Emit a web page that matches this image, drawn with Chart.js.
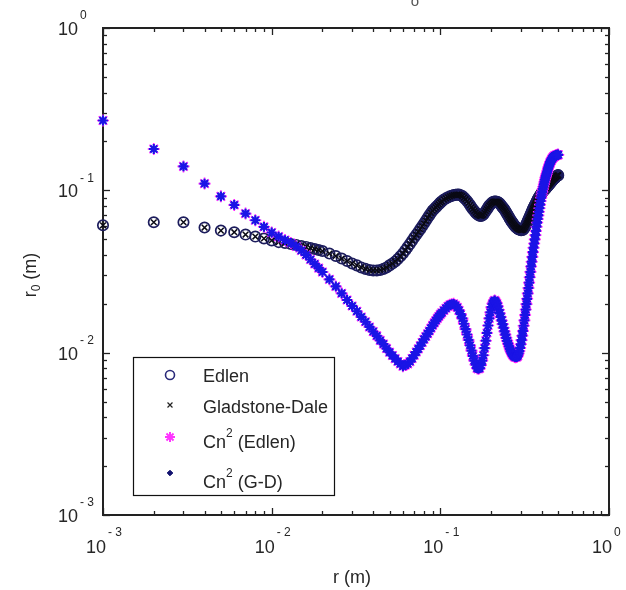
<!DOCTYPE html>
<html>
<head>
<meta charset="utf-8">
<script src="https://cdn.jsdelivr.net/npm/chart.js@4.4.0/dist/chart.umd.min.js"></script>
<style>
html, body { margin: 0; padding: 0; background: #fff; }
</style>
</head>
<body>
<canvas id="myChart" width="626" height="590"></canvas>
<script>
// r (m)
let radius = [
  0.001, 0.002, 0.003, 0.004, 0.005, 0.006, 0.007, 0.008, 0.009, 0.010,
  0.011, 0.012, 0.013, 0.014, 0.015, 0.016, 0.017, 0.018, 0.019, 0.020,
  0.022, 0.024, 0.026, 0.028, 0.030, 0.032, 0.034, 0.036, 0.038, 0.040,
  0.042, 0.044, 0.046, 0.048, 0.050, 0.052, 0.054, 0.056, 0.058, 0.060,
  0.062, 0.064, 0.066, 0.068, 0.070, 0.072, 0.074, 0.076, 0.078, 0.080,
  0.082, 0.084, 0.086, 0.088, 0.090, 0.092, 0.094, 0.096, 0.098, 0.100,
  0.102, 0.105, 0.108, 0.111, 0.114, 0.117, 0.120, 0.123, 0.126, 0.129,
  0.132, 0.135, 0.138, 0.141, 0.144, 0.147, 0.150, 0.153, 0.156, 0.159,
  0.162, 0.165, 0.168, 0.171, 0.174, 0.177, 0.180, 0.183, 0.186, 0.189,
  0.192, 0.195, 0.198, 0.201, 0.204, 0.207, 0.210, 0.213, 0.216, 0.219,
  0.222, 0.225, 0.228, 0.231, 0.234, 0.237, 0.240, 0.243, 0.246, 0.249,
  0.252, 0.255, 0.258, 0.261, 0.264, 0.267, 0.270, 0.273, 0.276, 0.279,
  0.282, 0.285, 0.288, 0.291, 0.294, 0.297, 0.300, 0.303, 0.306, 0.309,
  0.312, 0.315, 0.318, 0.321, 0.324, 0.327, 0.330, 0.333, 0.336, 0.339,
  0.342, 0.345, 0.348, 0.351, 0.354, 0.357, 0.360, 0.363, 0.366, 0.369,
  0.372, 0.375, 0.378, 0.381, 0.384, 0.387, 0.390, 0.393, 0.396, 0.399,
  0.402, 0.405, 0.408, 0.411, 0.414, 0.417, 0.420, 0.423, 0.426, 0.429,
  0.432, 0.435, 0.438, 0.441, 0.444, 0.447, 0.450, 0.453, 0.456, 0.459,
  0.462, 0.465, 0.468, 0.471, 0.474, 0.477, 0.480, 0.483, 0.486, 0.489,
  0.492, 0.495, 0.498, 0.500
];

// r0 (m) with the Edlen refractive index
let r0Edlen = [
  0.0609, 0.0636, 0.0636, 0.0590, 0.0565, 0.0552, 0.0534, 0.0519, 0.0505, 0.0491,
  0.0480, 0.0474, 0.0467, 0.0461, 0.0454, 0.0448, 0.0441, 0.0435, 0.0429, 0.0423,
  0.0408, 0.0394, 0.0380, 0.0367, 0.0354, 0.0345, 0.0335, 0.0328, 0.0323, 0.0321,
  0.0321, 0.0323, 0.0328, 0.0335, 0.0345, 0.0354, 0.03646, 0.03772, 0.03924, 0.0408,
  0.04272, 0.04470, 0.04677, 0.04894, 0.05121, 0.05328, 0.05543, 0.05767, 0.06000, 0.0624,
  0.06494, 0.06756, 0.07010, 0.07254, 0.0750, 0.07675, 0.07851, 0.08030, 0.08215, 0.0840,
  0.08548, 0.0877, 0.08917, 0.09057, 0.09173, 0.09264, 0.0934, 0.09382, 0.0941, 0.0941,
  0.09331, 0.0921, 0.0902, 0.08817, 0.08595, 0.08354, 0.0811, 0.07873, 0.07652, 0.07460,
  0.07292, 0.0714, 0.07050, 0.06981, 0.06950, 0.07000, 0.0709, 0.07272, 0.07460, 0.07652,
  0.07851, 0.0805, 0.08190, 0.08320, 0.08427, 0.08487, 0.0852, 0.0852, 0.0851, 0.08475,
  0.08392, 0.0828, 0.08145, 0.08008, 0.07873, 0.07741, 0.0761, 0.0745, 0.07292, 0.0714,
  0.0699, 0.0684, 0.0670, 0.06568, 0.06458, 0.06350, 0.0624, 0.06138, 0.06043, 0.05968,
  0.05908, 0.0586, 0.05808, 0.05767, 0.05743, 0.05718, 0.0569, 0.0569, 0.05701, 0.05726,
  0.05783, 0.0586, 0.05957, 0.0607, 0.06198, 0.06332, 0.0647, 0.0661, 0.06747, 0.0689,
  0.07041, 0.0719, 0.0734, 0.0750, 0.07665, 0.07806, 0.0794, 0.08076, 0.08215, 0.08354,
  0.08498, 0.0864, 0.08793, 0.08930, 0.09046, 0.09161, 0.0928, 0.09397, 0.09517, 0.09638,
  0.09734, 0.0982, 0.09902, 0.09986, 0.1007, 0.1016, 0.1024, 0.1033, 0.1042, 0.1051,
  0.1060, 0.1069, 0.1078, 0.1087, 0.1096, 0.1106, 0.1115, 0.1125, 0.1134, 0.1144,
  0.1154, 0.1163, 0.1173, 0.1181, 0.1187, 0.1192, 0.1197, 0.1207, 0.1216, 0.1221,
  0.1226, 0.1231, 0.1237, 0.1240
];
// r0 (m) with Gladstone-Dale: on this plot it lies on the Edlen curve
let r0GladstoneDale = r0Edlen.slice();

// r0 (m) from the Cn2 profile (Edlen)
let r0Cn2Edlen = [
  0.2693, 0.1797, 0.1404, 0.1100, 0.0918, 0.0813, 0.0719, 0.0654, 0.0596, 0.0550,
  0.0519, 0.0494, 0.0474, 0.0451, 0.0426, 0.0400, 0.0375, 0.0352, 0.0332, 0.0314,
  0.0283, 0.0256, 0.0232, 0.0211, 0.0194, 0.0180, 0.0166, 0.0155, 0.0144, 0.0135,
  0.0127, 0.0119, 0.0113, 0.0106, 0.01006, 0.00961, 0.00919, 0.00883, 0.00853, 0.00825,
  0.00839, 0.00853, 0.00881, 0.00921, 0.00964, 0.01009, 0.01055, 0.01104, 0.01155, 0.01209,
  0.01258, 0.01309, 0.01361, 0.01416, 0.01474, 0.01525, 0.01577, 0.01627, 0.01674, 0.01722,
  0.01761, 0.01822, 0.01877, 0.01929, 0.01970, 0.01990, 0.01998, 0.01956, 0.01901, 0.01822,
  0.01727, 0.01627, 0.01507, 0.01396, 0.01294, 0.01198, 0.01110, 0.01029, 0.00956, 0.00893,
  0.00844, 0.00802, 0.00795, 0.00802, 0.00837, 0.00893, 0.00964, 0.01067, 0.01185, 0.01323,
  0.01470, 0.01627, 0.01771, 0.01907, 0.02006, 0.02064, 0.02099, 0.02064, 0.02012, 0.01929,
  0.01838, 0.01747, 0.01660, 0.01577, 0.01499, 0.01424, 0.01353, 0.01292, 0.01235, 0.01183,
  0.01137, 0.01095, 0.01058, 0.01026, 0.01000, 0.00980, 0.00964, 0.00952, 0.00942, 0.00938,
  0.00939, 0.00944, 0.00957, 0.00989, 0.01023, 0.01070, 0.01126, 0.01195, 0.01272, 0.01361,
  0.01465, 0.01581, 0.01707, 0.01843, 0.01990, 0.02147, 0.02318, 0.02502, 0.02701, 0.02916,
  0.03147, 0.03396, 0.03635, 0.03890, 0.04165, 0.04432, 0.04703, 0.04991, 0.05297, 0.05621,
  0.05968, 0.06332, 0.06663, 0.07010, 0.07378, 0.07762, 0.08168, 0.08595, 0.09018, 0.09410,
  0.09790, 0.1017, 0.1052, 0.1088, 0.1126, 0.1162, 0.1197, 0.1228, 0.1259, 0.1292,
  0.1325, 0.1360, 0.1389, 0.1419, 0.1449, 0.1485, 0.1501, 0.1520, 0.1540, 0.1560,
  0.1575, 0.1589, 0.1602, 0.1613, 0.1620, 0.1629, 0.1634, 0.1641, 0.1646, 0.1646,
  0.1650, 0.1657, 0.1657, 0.1657
];
// r0 (m) from the Cn2 profile (G-D): drawn over the Edlen one
let r0Cn2GD = r0Cn2Edlen.slice();

// tick labels
let decades = [0.001, 0.01, 0.1, 1];
let exponents = ['-3', '-2', '-1', '0'];
let minorSteps = [2, 3, 4, 5, 6, 7, 8, 9];

let legendNames = [
  ['Edlen', '', ''],
  ['Gladstone-Dale', '', ''],
  ['Cn', '2', ' (Edlen)'],
  ['Cn', '2', ' (G-D)']
];

function points(values) {
  let out = [];
  for (let i = 0; i < radius.length; i++) {
    out.push({x: radius[i], y: values[i]});
  }
  return out;
}

const FONT = '"Liberation Sans", Arial, sans-serif';
const TXT = '#262626';

const framePlugin = {
  id: 'frame',
  beforeDatasetsDraw(chart) {
    const ctx = chart.ctx;
    const a = chart.chartArea;
    const xs = chart.scales.x, ys = chart.scales.y;
    ctx.save();
    ctx.strokeStyle = '#222';
    ctx.lineWidth = 1.3;
    function seg(x1, y1, x2, y2) {
      ctx.beginPath(); ctx.moveTo(x1, y1); ctx.lineTo(x2, y2); ctx.stroke();
    }
    function tick(v, len) {
      let px = Math.round(xs.getPixelForValue(v)) + 0.5;
      let py = Math.round(ys.getPixelForValue(v)) + 0.5;
      seg(px, a.bottom, px, a.bottom - len);
      seg(px, a.top, px, a.top + len);
      seg(a.left, py, a.left + len, py);
      seg(a.right, py, a.right - len, py);
    }
    for (let d = 0; d < decades.length; d++) {
      tick(decades[d], 7);
      if (d < decades.length - 1) {
        minorSteps.forEach(m => tick(decades[d] * m, 4));
      }
    }
    ctx.lineWidth = 2;
    ctx.strokeRect(a.left, a.top, a.right - a.left, a.bottom - a.top);

    // tick labels: 10 with exponent
    ctx.fillStyle = TXT;
    ctx.textBaseline = 'middle';
    for (let d = 0; d < decades.length; d++) {
      let py = ys.getPixelForValue(decades[d]);
      ctx.font = '18px ' + FONT;
      ctx.textAlign = 'right';
      ctx.fillText('10', 78, py + 2);
      ctx.font = '12px ' + FONT;
      ctx.textAlign = 'left';
      ctx.fillText(exponents[d].replace('-', '- '), 80, py - 12);

      let px = xs.getPixelForValue(decades[d]);
      ctx.font = '18px ' + FONT;
      ctx.textAlign = 'right';
      ctx.fillText('10', px + 3, 548);
      ctx.font = '12px ' + FONT;
      ctx.textAlign = 'left';
      ctx.fillText(exponents[d].replace('-', '- '), px + 5, 533);
    }

    // axis titles
    ctx.font = '18px ' + FONT;
    ctx.textAlign = 'center';
    ctx.fillText('r (m)', (a.left + a.right) / 2 - 4, 578);

    ctx.save();
    ctx.translate(31, 275);
    ctx.rotate(-Math.PI / 2);
    ctx.textAlign = 'left';
    ctx.font = '18px ' + FONT;
    let wR = ctx.measureText('r').width;
    ctx.font = '12px ' + FONT;
    let wS = ctx.measureText('0').width;
    ctx.font = '18px ' + FONT;
    let wM = ctx.measureText(' (m)').width;
    let x0 = -(wR + wS + wM) / 2;
    ctx.fillText('r', x0, 0);
    ctx.font = '12px ' + FONT;
    ctx.fillText('0', x0 + wR, 6);
    ctx.font = '18px ' + FONT;
    ctx.fillText(' (m)', x0 + wR + wS, 0);
    ctx.restore();

    // clipped title remnant at the top
    ctx.font = '15px ' + FONT;
    ctx.textAlign = 'center';
    ctx.fillStyle = '#555';
    ctx.fillText('o', 415, 2);
    ctx.restore();
  },
  afterDatasetsDraw(chart) {
    const ctx = chart.ctx;
    ctx.save();
    ctx.fillStyle = '#fff';
    ctx.fillRect(133, 357, 201, 138);
    ctx.strokeStyle = '#111';
    ctx.lineWidth = 1.2;
    ctx.strokeRect(133.5, 357.5, 201, 138);

    let markerY = [375, 405, 437, 473];
    let textY = [377, 408, 443, 483];
    let styles = [
      {pointStyle: 'circle', radius: 4.5, borderWidth: 1.6, stroke: '#2a2a7a', fill: 'rgba(0,0,0,0)'},
      {pointStyle: 'crossRot', radius: 3.5, borderWidth: 1.2, stroke: '#222', fill: '#222'},
      {pointStyle: 'star', radius: 5, borderWidth: 2, stroke: '#ff33ff', fill: '#ff33ff'},
      {pointStyle: 'rectRot', radius: 2.8, borderWidth: 1, stroke: '#10106e', fill: '#10106e'}
    ];
    for (let i = 0; i < legendNames.length; i++) {
      let s = styles[i];
      ctx.strokeStyle = s.stroke;
      ctx.fillStyle = s.fill;
      ctx.lineWidth = s.borderWidth;
      Chart.helpers.drawPoint(ctx, {pointStyle: s.pointStyle, radius: s.radius, borderWidth: s.borderWidth, rotation: 0}, 170, markerY[i]);

      ctx.fillStyle = TXT;
      ctx.textBaseline = 'middle';
      ctx.textAlign = 'left';
      let tx = 203;
      ctx.font = '18px ' + FONT;
      ctx.fillText(legendNames[i][0], tx, textY[i]);
      tx += ctx.measureText(legendNames[i][0]).width;
      if (legendNames[i][1]) {
        ctx.font = '12px ' + FONT;
        ctx.fillText(legendNames[i][1], tx, textY[i] - 9);
        tx += ctx.measureText(legendNames[i][1]).width;
      }
      ctx.font = '18px ' + FONT;
      ctx.fillText(legendNames[i][2], tx, textY[i]);
    }
    ctx.restore();
  }
};

let ctx = document.getElementById('myChart').getContext('2d');
let chart = new Chart(ctx, {
  type: 'scatter',
  data: {
    datasets: [
      { // Edlen
        label: 'Edlen',
        data: points(r0Edlen),
        pointStyle: 'circle',
        pointRadius: 5.2,
        pointBorderWidth: 1.7,
        borderColor: '#1c1c5c',
        backgroundColor: 'rgba(0,0,0,0)',
        clip: false,
        order: 4
      },
      { // Gladstone-Dale
        label: 'Gladstone-Dale',
        data: points(r0GladstoneDale),
        pointStyle: 'crossRot',
        pointRadius: 4,
        pointBorderWidth: 1.5,
        borderColor: '#0a0a14',
        backgroundColor: '#0a0a14',
        clip: false,
        order: 3
      },
      { // Cn2 (Edlen)
        label: 'Cn2 (Edlen)',
        data: points(r0Cn2Edlen),
        pointStyle: 'star',
        pointRadius: 6,
        pointBorderWidth: 1.6,
        borderColor: '#ff22ff',
        backgroundColor: '#ff22ff',
        clip: false,
        order: 2
      },
      { // Cn2 (G-D)
        label: 'Cn2 (G-D)',
        data: points(r0Cn2GD),
        pointStyle: 'star',
        pointRadius: 4.9,
        pointBorderWidth: 2.2,
        borderColor: '#1a14e6',
        backgroundColor: '#1a14e6',
        clip: false,
        order: 1
      }
    ]
  },
  options: {
    responsive: false,
    animation: false,
    layout: { padding: { left: 103, top: 28, right: 17, bottom: 75 } },
    scales: {
      x: { type: 'logarithmic', min: 0.001, max: 1, display: false },
      y: { type: 'logarithmic', min: 0.001, max: 1, display: false }
    },
    plugins: {
      legend: { display: false },
      tooltip: { enabled: false }
    }
  },
  plugins: [framePlugin]
});
</script>
</body>
</html>
